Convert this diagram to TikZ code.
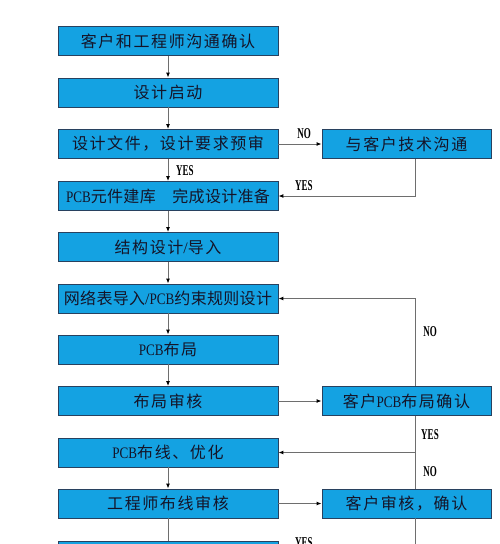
\documentclass[tikz,border=0pt]{standalone}
\usepackage{fontspec}
\setmainfont{Liberation Serif}
\newfontfamily\cjk[LetterSpace=10]{Noto Sans CJK SC}
\newfontfamily\cjktight[LetterSpace=2]{Noto Sans CJK SC}
\usetikzlibrary{arrows.meta}
\definecolor{boxfill}{RGB}{20,162,226}
\definecolor{boxline}{RGB}{40,65,95}
\definecolor{txt}{RGB}{20,20,40}
\definecolor{conncol}{RGB}{110,110,110}
\newcommand\zh[1]{{\cjk #1}}
\newcommand\zht[1]{{\cjktight #1}}
\newcommand\pcb{\scalebox{0.82}[1]{PCB}}
\newcommand\lbl[1]{\scalebox{0.6}[1]{\textbf{#1}}}
\begin{document}
\begin{tikzpicture}[x=1pt,y=-1pt,
  box/.style={draw=boxline, line width=0.8pt, fill=boxfill, minimum width=220pt,
    minimum height=29pt, inner sep=0pt, text=txt, font=\fontsize{16}{16}\selectfont},
  rbox/.style={box, minimum width=169pt},
  conn/.style={draw=conncol, line width=1pt},
  arr/.style={conn, -{Latex[length=5pt,width=4pt,color=black]}},
  lab/.style={font=\fontsize{15}{15}\selectfont, text=black, inner sep=0pt}
]
\useasboundingbox[fill=white] (0,0) rectangle (500,544);
\clip (0,0) rectangle (500,544);
\coordinate (vx) at (415,0);
% left column
\node[box] (b1)  at (168,41)    {\zh{客户和工程师沟通确认}};
\node[box] (b2)  at (168,92.5)  {\zh{设计启动}};
\node[box] (b3)  at (168,144)   {\zh{设计文件，设计要求预审}};
\node[box] (b4)  at (168,196)   {\pcb\zht{元件建库　完成设计准备}};
\node[box] (b5)  at (168,247)   {\zh{结构设计}/\zh{导入}};
\node[box] (b6)  at (168,298.5) {\zht{网络表导入}/\pcb\zht{约束规则设计}};
\node[box] (b7)  at (168,349.5) {\pcb\zh{布局}};
\node[box] (b8)  at (168,401)   {\zh{布局审核}};
\node[box] (b9)  at (168,452.5) {\pcb\zh{布线、优化}};
\node[box] (b10) at (168,503.5) {\zh{工程师布线审核}};
\node[box] (b11) at (168,556)   {};
% right column
\node[rbox] (r1) at (406.5,144)   {\zh{与客户技术沟通}};
\node[rbox] (r2) at (406.5,401)   {\zh{客户}\pcb\zh{布局确认}};
\node[rbox] (r3) at (406.5,503.5) {\zh{客户审核，确认}};
% main flow
\draw[arr] (b1) -- (b2);
\draw[arr] (b2) -- (b3);
\draw[arr] (b3) -- (b4);
\draw[arr] (b4) -- (b5);
\draw[arr] (b5) -- (b6);
\draw[arr] (b6) -- (b7);
\draw[arr] (b7) -- (b8);
\draw[arr] (b9) -- (b10);
\draw[conn] (b10) -- (b11);
% side branches
\draw[arr] (b3) -- (r1);
\draw[arr] (r1.south -| vx) -- (vx |- b4.east) -- (b4.east);
\draw[arr] (b8) -- (r2);
\draw[arr] (b10) -- (r3);
\draw[arr] (r2.north -| vx) -- (vx |- b6.east) -- (b6.east);
\draw[conn] (r2.south -| vx) -- (r3.north -| vx);
\draw[arr] (vx |- b9.east) -- (b9.east);
\coordinate (vend) at (415,560);
\draw[conn] (r3.south -| vx) -- (vend);
% labels
\node[lab] (l1) at (304,134) {\lbl{NO}};
\node[lab] (l2) at (304,186) {\lbl{YES}};
\node[lab] (l3) at (185,171) {\lbl{YES}};
\node[lab] (l4) at (430,332) {\lbl{NO}};
\node[lab] (l5) at (430,435) {\lbl{YES}};
\node[lab] (l6) at (430,472) {\lbl{NO}};
\node[lab] (l7) at (304,542.5) {\lbl{YES}};
\end{tikzpicture}
\end{document}
